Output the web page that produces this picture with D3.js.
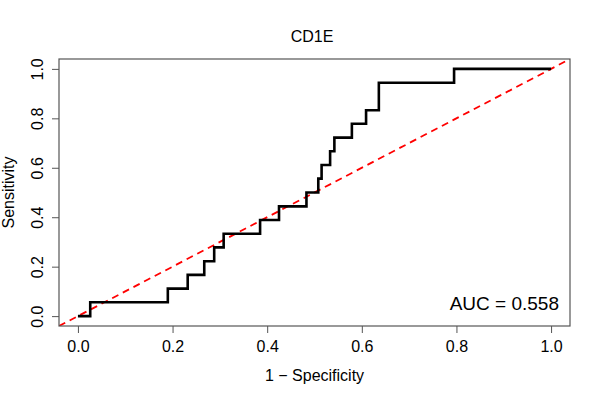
<!DOCTYPE html>
<html>
<head>
<meta charset="utf-8">
<script src="https://cdn.jsdelivr.net/npm/d3@7"></script>
<style>
  body { margin: 0; background: #fff; }
  text { font-family: "Liberation Sans", Arial, Helvetica, sans-serif; fill: #000; }
</style>
</head>
<body>
<div id="chart"></div>
<script>
var svgWidth = 600;
var svgHeight = 400;

// ROC corner points: false positive rate where sensitivity steps up, and the new sensitivity
var fpr = [0, 0.026, 0.190, 0.232, 0.267, 0.288, 0.308, 0.385, 0.425, 0.483,
           0.508, 0.515, 0.533, 0.542, 0.579, 0.609, 0.636, 0.795, 1.0];
var tpr = [0, 0.056, 0.111, 0.167, 0.222, 0.278, 0.333, 0.389, 0.444, 0.500,
           0.556, 0.611, 0.667, 0.722, 0.778, 0.833, 0.944, 1.0, 1.0];

var tickValues = [0, 0.2, 0.4, 0.6, 0.8, 1.0];
var chartTitle = "CD1E";
var xTitle = "1 \u2212 Specificity";
var yTitle = "Sensitivity";
var aucLabel = "AUC = 0.558";

var plot = { left: 59, right: 570, top: 59, bottom: 326 };

var svg = d3.select("#chart")
  .append("svg")
  .attr("width", svgWidth)
  .attr("height", svgHeight);

var xScale = d3.scaleLinear()
  .domain([-0.04, 1.04])
  .range([plot.left, plot.right]);

var yScale = d3.scaleLinear()
  .domain([-0.04, 1.04])
  .range([plot.bottom, plot.top]);

svg.append("clipPath")
  .attr("id", "plotclip")
  .append("rect")
  .attr("x", plot.left)
  .attr("y", plot.top)
  .attr("width", plot.right - plot.left)
  .attr("height", plot.bottom - plot.top);

// reference diagonal (abline 0,1)
var diag = xScale.domain();
svg.append("line")
  .attr("clip-path", "url(#plotclip)")
  .attr("x1", xScale(diag[0]))
  .attr("y1", yScale(diag[0]))
  .attr("x2", xScale(diag[1]))
  .attr("y2", yScale(diag[1]))
  .attr("stroke", "#ff0000")
  .attr("stroke-width", 1.8)
  .attr("stroke-dasharray", "7,5");

// ROC curve
var points = fpr.map(function(d, i) { return [d, tpr[i]]; });
var rocLine = d3.line()
  .x(d => xScale(d[0]))
  .y(d => yScale(d[1]))
  .curve(d3.curveStepAfter);

svg.append("path")
  .datum(points)
  .attr("d", rocLine)
  .attr("fill", "none")
  .attr("stroke", "#000")
  .attr("stroke-width", 2.6)
  .attr("stroke-linejoin", "miter");

// axes
var xAxis = svg.append("g")
  .attr("transform", `translate(0, ${plot.bottom})`)
  .call(d3.axisBottom(xScale).tickValues(tickValues).tickFormat(d3.format(".1f")).tickSize(7));

xAxis.select(".domain").remove();
xAxis.selectAll("line").attr("stroke", "#555");
xAxis.selectAll("text")
  .attr("y", 26)
  .attr("dy", null)
  .attr("font-size", "16px")
  .attr("font-family", null);

var yAxis = svg.append("g")
  .attr("transform", `translate(${plot.left}, 0)`)
  .call(d3.axisLeft(yScale).tickValues(tickValues).tickFormat(d3.format(".1f")).tickSize(7));

yAxis.select(".domain").remove();
yAxis.selectAll("line").attr("stroke", "#555");
yAxis.selectAll("text")
  .attr("x", null)
  .attr("dy", null)
  .attr("text-anchor", "middle")
  .attr("transform", "translate(-16, 0) rotate(-90)")
  .attr("font-size", "16px")
  .attr("font-family", null);

// box
svg.append("rect")
  .attr("x", plot.left)
  .attr("y", plot.top)
  .attr("width", plot.right - plot.left)
  .attr("height", plot.bottom - plot.top)
  .attr("fill", "none")
  .attr("stroke", "#555")
  .attr("stroke-width", 1.2);

// titles
svg.append("text")
  .attr("x", 312)
  .attr("y", 42)
  .attr("text-anchor", "middle")
  .attr("font-size", "16px")
  .text(chartTitle);

svg.append("text")
  .attr("x", (plot.left + plot.right) / 2)
  .attr("y", 381)
  .attr("text-anchor", "middle")
  .attr("font-size", "16px")
  .text(xTitle);

svg.append("text")
  .attr("transform", `translate(14, ${(plot.top + plot.bottom) / 2}) rotate(-90)`)
  .attr("text-anchor", "middle")
  .attr("font-size", "16px")
  .text(yTitle);

svg.append("text")
  .attr("x", 559)
  .attr("y", 310)
  .attr("text-anchor", "end")
  .attr("font-size", "19px")
  .text(aucLabel);
</script>
</body>
</html>
